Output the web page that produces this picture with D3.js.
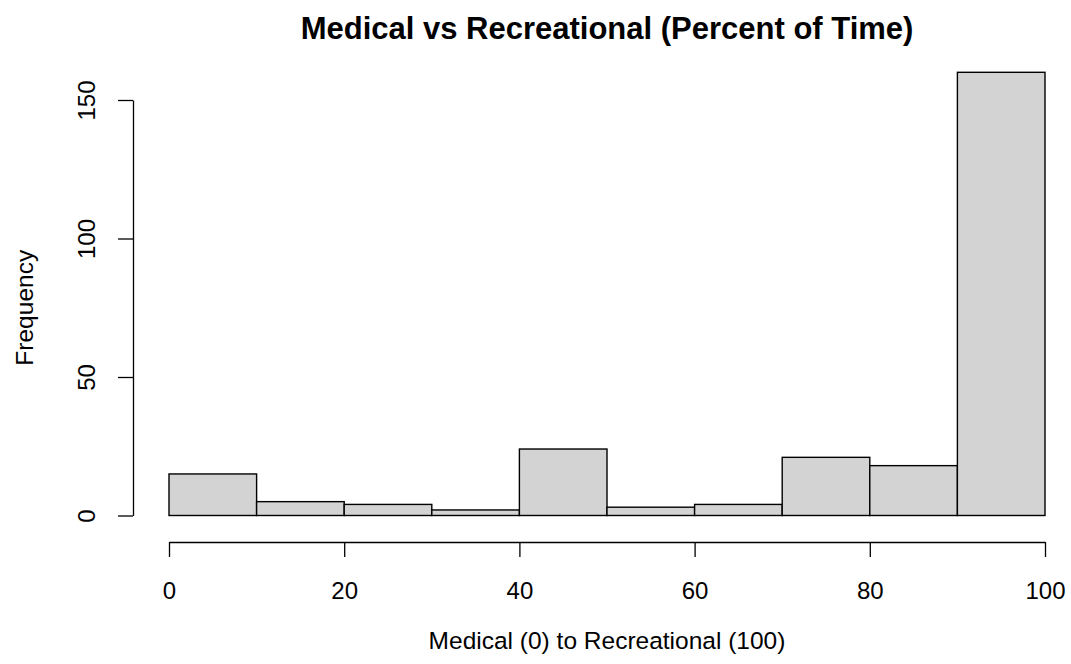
<!DOCTYPE html>
<html>
<head>
<meta charset="utf-8">
<script src="https://cdn.jsdelivr.net/npm/d3@7"></script>
<style>
  body { margin: 0; background: #fff; }
  text { font-family: "Liberation Sans", Arial, Helvetica, sans-serif; fill: #000; }
</style>
</head>
<body>
<svg id="viz"></svg>
<script>
const width = 1071, height = 664;

// histogram bins (lower edge) and counts
const binStarts = [0, 10, 20, 30, 40, 50, 60, 70, 80, 90];
const binWidth = 10;
const counts = [15, 5, 4, 2, 24, 3, 4, 21, 18, 160];
const xTicks = [0, 20, 40, 60, 80, 100];
const yTicks = [0, 50, 100, 150];

const svg = d3.select("#viz")
  .attr("width", width)
  .attr("height", height);

const x = d3.scaleLinear().domain([0, 100]).range([169, 1045]);
const y = d3.scaleLinear().domain([0, 150]).range([515.5, 100]);

// bars
svg.selectAll("rect.bar")
  .data(binStarts)
  .enter().append("rect")
  .attr("class", "bar")
  .attr("x", d => x(d))
  .attr("width", d => x(d + binWidth) - x(d))
  .attr("y", (d, i) => y(counts[i]))
  .attr("height", (d, i) => y(0) - y(counts[i]))
  .attr("fill", "#d3d3d3")
  .attr("stroke", "#000")
  .attr("stroke-width", 1.4);

// x axis
const xAxis = svg.append("g")
  .attr("transform", "translate(0,542)")
  .call(d3.axisBottom(x).tickValues(xTicks).tickSize(15).tickSizeOuter(0).tickPadding(20));
xAxis.select(".domain").attr("stroke-width", 1.3);
xAxis.selectAll(".tick line").attr("stroke-width", 1.3);
xAxis.selectAll("text")
  .attr("font-size", 24)
  .attr("font-family", null)
  .attr("y", 51).attr("dy", null)
  .attr("dominant-baseline", "middle");

// y axis
const yAxis = svg.append("g")
  .attr("transform", "translate(133,0)")
  .call(d3.axisLeft(y).tickValues(yTicks).tickSize(15).tickSizeOuter(0));
yAxis.select(".domain").attr("stroke-width", 1.3);
yAxis.selectAll(".tick line").attr("stroke-width", 1.3);
yAxis.selectAll("text")
  .attr("font-size", 24)
  .attr("font-family", null)
  .attr("x", null).attr("dy", null)
  .attr("text-anchor", "middle")
  .attr("transform", "translate(-44,0) rotate(-90)")
  .attr("dominant-baseline", "middle");

// title and labels
svg.append("text")
  .attr("x", (x(0) + x(100)) / 2)
  .attr("y", 39)
  .attr("text-anchor", "middle")
  .attr("font-size", 31)
  .attr("font-weight", "bold")
  .text("Medical vs Recreational (Percent of Time)");

svg.append("text")
  .attr("x", (x(0) + x(100)) / 2)
  .attr("y", 649)
  .attr("text-anchor", "middle")
  .attr("font-size", 24.5)
  .text("Medical (0) to Recreational (100)");

svg.append("text")
  .attr("transform", "translate(33," + ((y(0) + y(150)) / 2) + ") rotate(-90)")
  .attr("text-anchor", "middle")
  .attr("font-size", 24.5)
  .text("Frequency");
</script>
</body>
</html>
